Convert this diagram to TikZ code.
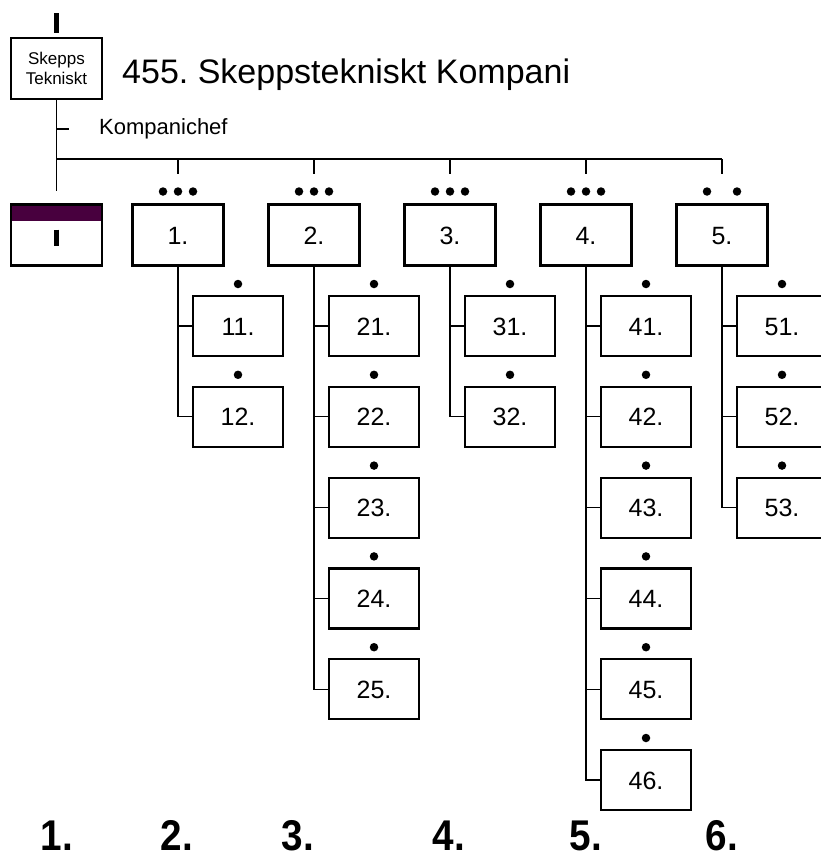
\documentclass[tikz,border=0pt]{standalone}
\usepackage{fontspec}
\setmainfont{Liberation Sans}
\frenchspacing
\definecolor{staffpurple}{RGB}{72,0,62}
\tikzset{%
  unitbox/.style  = {shape=rectangle, draw, line width=2.2pt, outer sep=0pt,%
                     inner sep=0pt, minimum width=91pt, minimum height=61pt,%
                     text height=18pt, text depth=0pt,%
                     font=\fontsize{25}{28}\selectfont},%
  subbox/.style   = {unitbox, minimum width=90pt, minimum height=60pt},%
  chiefbox/.style = {unitbox, align=center, text height=, text depth=,%
                     font=\fontsize{17}{20}\selectfont},%
  staffbox/.style = {unitbox, path picture={\fill[staffpurple]
                     (path picture bounding box.north west) rectangle
                     ([yshift=-16pt]path picture bounding box.north east);}},%
  rankdot/.style  = {circle, fill=black, inner sep=0pt, minimum size=8.5pt},%
  link/.style     = {line width=1.3pt},%
  rankbar/.style  = {line width=4.5pt},%
  colnum/.style   = {anchor=base, inner sep=0pt,%
                     font=\fontsize{43}{43}\selectfont\bfseries}%
}
\begin{document}
\begin{tikzpicture}[x=1pt,y=-1pt]
	\useasboundingbox (0,0) rectangle (821,859);
	% head of the company
	\node[chiefbox] (chief) at (56.5,68.5) {Skepps\\Tekniskt};
	\node[anchor=base west, inner sep=0pt, font=\fontsize{34}{34}\selectfont]
		(title) at (122,83) {455. Skeppstekniskt Kompani};
	\node[anchor=base west, inner sep=0pt, font=\fontsize{22}{22}\selectfont]
		(kc) at (99,134) {Kompanichef};
	\draw[rankbar] ([yshift=5pt]chief.north) -- ++(0,-20);
	\coordinate (kctick) at (56.5,129);
	\coordinate (bus) at (56.5,159);
	% staff and platoons
	\node[staffbox] (hq) at (56.5,235) {};
	\draw[rankbar] ([yshift=-25pt]hq.north) -- ++(0,16);
	\foreach \i in {1,...,5}
		\node[unitbox] (c\i) at ({178+136*(\i-1)},235) {\i.};
	\foreach \i in {1,...,4}
		\foreach \dx/\m in {-15/a,0/b,15/c}
			\node[rankdot] (e\i\m) at ([xshift=\dx pt,yshift=13pt]c\i.north) {};
	\foreach \dx/\m in {-15/a,15/c}
		\node[rankdot] (e5\m) at ([xshift=\dx pt,yshift=13pt]c5.north) {};
	\draw[link] (chief.south) -- ([yshift=14pt]hq.north);
	\draw[link] (kctick) -- ++(12.5,0);
	\draw[link] (bus) -- (bus -| c5.north);
	\foreach \i in {1,...,5}
		\draw[link] (bus -| c\i.north) -- ([yshift=31pt]c\i.north);
	% squads
	\foreach \i/\n in {1/2,2/5,3/2,4/6,5/3}
		\foreach \k in {1,...,\n} {
			\node[subbox] (s\i\k) at ({238+136*(\i-1)},{326+90.8*(\k-1)}) {\i\k.};
			\node[rankdot] (d\i\k) at ([yshift=12pt]s\i\k.north) {};
			\draw[link] (c\i.south) |- (s\i\k.west);
		}
	% column numbers
	\foreach \x/\m in {57/1,177/2,298/3,449/4,586/5,722/6}
		\node[colnum] (n\m) at (\x,850) {\scalebox{0.9}[1]{\m.}};
\end{tikzpicture}
\end{document}
